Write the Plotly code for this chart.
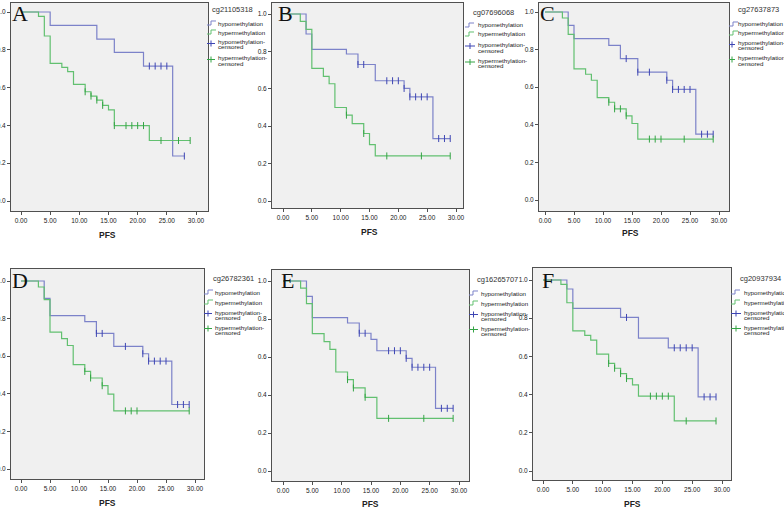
import plotly.graph_objects as go

W, H = 784, 509

# ---------------- data ----------------
x_tickvals = [0, 5, 10, 15, 20, 25, 30]
x_ticktext = ["0.00", "5.00", "10.00", "15.00", "20.00", "25.00", "30.00"]
y_tickvals = [0, 0.2, 0.4, 0.6, 0.8, 1.0]
y_ticktext = ["0.0", "0.2", "0.4", "0.6", "0.8", "1.0"]

panel_letters = ["A", "B", "C", "D", "E", "F"]
probe_ids = ["cg21105318", "cg07696068", "cg27637873", "cg26782361", "cg16265707", "cg20937934"]
x_title = "PFS"
legend_labels = ["hypomethylation", "hypermethylation", "hypomethylation-", "censored",
                 "hypermethylation-", "censored"]

# Panel A
a_hypo_times = [5, 13, 16, 21, 26]
a_hypo_surv = [0.929, 0.857, 0.786, 0.714, 0.238]
a_hypo_end = 28
a_hypo_cens = [22, 23, 24, 25, 28]
a_hyper_times = [3, 4, 5, 7, 8, 9, 11, 12, 13, 14, 15, 16, 22]
a_hyper_surv = [0.977, 0.873, 0.728, 0.707, 0.684, 0.617, 0.578, 0.555, 0.534, 0.506, 0.482, 0.399, 0.320]
a_hyper_end = 29
a_hyper_cens = [11, 12, 13, 14, 16, 18, 19, 20, 21, 24, 27, 29]

# Panel B
b_hypo_times = [4, 5, 11, 13, 16, 21, 22, 26]
b_hypo_surv = [0.893, 0.811, 0.786, 0.730, 0.643, 0.602, 0.557, 0.334]
b_hypo_end = 29
b_hypo_cens = [13, 14, 18, 19, 20, 21, 22, 23, 24, 25, 27, 28, 29]
b_hyper_times = [3, 4, 5, 7, 8, 9, 11, 12, 14, 15, 16]
b_hyper_surv = [0.961, 0.918, 0.709, 0.666, 0.627, 0.500, 0.459, 0.414, 0.361, 0.302, 0.241]
b_hyper_end = 29
b_hyper_cens = [11, 14, 18, 24, 29]

# Panel C
c_hypo_times = [4, 5, 11, 13, 16, 21, 22, 26]
c_hypo_surv = [0.929, 0.858, 0.823, 0.752, 0.680, 0.637, 0.588, 0.350]
c_hypo_end = 29
c_hypo_cens = [14, 16, 18, 21, 22, 23, 24, 25, 27, 28, 29]
c_hyper_times = [3, 4, 5, 7, 8, 9, 11, 12, 14, 15, 16]
c_hyper_surv = [0.968, 0.881, 0.697, 0.669, 0.637, 0.545, 0.520, 0.485, 0.448, 0.407, 0.324]
c_hyper_end = 29
c_hyper_cens = [11, 12, 13, 14, 18, 19, 20, 24, 29]

# Panel D
d_hypo_times = [4, 5, 11, 13, 16, 21, 22, 26]
d_hypo_surv = [0.908, 0.816, 0.784, 0.721, 0.652, 0.613, 0.574, 0.343]
d_hypo_end = 29
d_hypo_cens = [13, 14, 18, 21, 22, 23, 24, 25, 27, 28, 29]
d_hyper_times = [3, 4, 5, 7, 8, 9, 11, 12, 14, 15, 16]
d_hyper_surv = [0.968, 0.901, 0.728, 0.693, 0.657, 0.555, 0.519, 0.484, 0.443, 0.398, 0.309]
d_hyper_end = 29
d_hyper_cens = [11, 12, 14, 18, 19, 20, 29]

# Panel E
e_hypo_times = [4, 5, 11, 13, 15, 16, 21, 22, 26]
e_hypo_surv = [0.919, 0.807, 0.779, 0.725, 0.693, 0.633, 0.593, 0.546, 0.330]
e_hypo_end = 29
e_hypo_cens = [13, 14, 18, 19, 20, 21, 22, 23, 24, 25, 27, 28, 29]
e_hyper_times = [3, 4, 5, 7, 8, 9, 11, 12, 14, 16]
e_hyper_surv = [0.963, 0.881, 0.723, 0.681, 0.640, 0.521, 0.481, 0.437, 0.388, 0.277]
e_hyper_end = 29
e_hyper_cens = [11, 12, 14, 18, 24, 29]

# Panel F
f_hypo_times = [4, 5, 13, 16, 21, 26]
f_hypo_surv = [0.953, 0.851, 0.804, 0.696, 0.645, 0.388]
f_hypo_end = 29
f_hypo_cens = [14, 22, 23, 24, 25, 27, 28, 29]
f_hyper_times = [3, 4, 5, 7, 8, 9, 11, 12, 13, 14, 15, 16, 22]
f_hyper_surv = [0.977, 0.881, 0.734, 0.710, 0.685, 0.612, 0.563, 0.538, 0.510, 0.484, 0.451, 0.392, 0.262]
f_hyper_end = 29
f_hyper_cens = [11, 12, 13, 14, 18, 19, 20, 21, 24, 29]

panels_data = [
    ((a_hypo_times, a_hypo_surv, a_hypo_end, a_hypo_cens), (a_hyper_times, a_hyper_surv, a_hyper_end, a_hyper_cens)),
    ((b_hypo_times, b_hypo_surv, b_hypo_end, b_hypo_cens), (b_hyper_times, b_hyper_surv, b_hyper_end, b_hyper_cens)),
    ((c_hypo_times, c_hypo_surv, c_hypo_end, c_hypo_cens), (c_hyper_times, c_hyper_surv, c_hyper_end, c_hyper_cens)),
    ((d_hypo_times, d_hypo_surv, d_hypo_end, d_hypo_cens), (d_hyper_times, d_hyper_surv, d_hyper_end, d_hyper_cens)),
    ((e_hypo_times, e_hypo_surv, e_hypo_end, e_hypo_cens), (e_hyper_times, e_hyper_surv, e_hyper_end, e_hyper_cens)),
    ((f_hypo_times, f_hypo_surv, f_hypo_end, f_hypo_cens), (f_hyper_times, f_hyper_surv, f_hyper_end, f_hyper_cens)),
]

# ---------------- layout geometry (pixels) ----------------
# frame: left, top, right, bottom ; ticks: x0px, x30px, y1px, y0px
frames = [(11, 3, 208, 211), (272, 3, 463, 208), (539, 3, 729, 211),
          (11, 269, 204, 479), (272, 270, 469, 481), (533, 268, 731, 480)]
tickpx = [(21, 196, 12, 201), (283, 456, 14, 201), (545, 719, 12, 200),
          (21, 195, 281, 469), (283, 459, 281, 471), (543, 722, 280, 471)]
letter_pos = [(20, 14), (285, 13), (547, 14), (20, 280), (287, 280), (548, 280)]
title_pos = [(108, 235), (369, 232), (630, 233), (107, 503), (370, 504), (632, 504)]
# legend: icon x, text x, probe right x, probe y, row ys
legend_geo = [
    (207, 216, 255, 10, [23, 32, 42, 47, 58, 63]),
    (465, 476, 516, 12, [25, 34, 44, 50, 60, 66]),
    (729, 736, 781, 10, [24, 33, 43, 48, 58, 63]),
    (204, 213, 256, 278, [292, 302, 312, 317, 327, 332]),
    (469, 479, 520, 279, [293, 303, 313, 318, 328, 333]),
    (731, 742, 783, 278, [292, 302, 312, 317, 327, 332]),
]

HYPO_LINE = "#7c82c9"
HYPO_MARK = "#3d45b3"
HYPER_LINE = "#62c070"
HYPER_MARK = "#34a445"
FRAME = "#505050"
NARROW = "Liberation Sans Narrow, Arial Narrow, Liberation Sans, Arial"


def px(x, y):
    return x / W, 1 - y / H


def surv_at(t, times, surv):
    s = 1.0
    for ti, si in zip(times, surv):
        if ti <= t:
            s = si
    return s


fig = go.Figure()
shapes = []
annotations = []
layout = {}

for i, (hypo, hyper) in enumerate(panels_data):
    sfx = "" if i == 0 else str(i + 1)
    xa, ya = "x" + sfx, "y" + sfx
    l, t, r, b = frames[i]
    x0p, x30p, y1p, y0p = tickpx[i]
    xs = (x30p - x0p) / 30.0
    ys = (y0p - y1p) / 1.0
    xr = [(l - x0p) / xs, (r - x0p) / xs]
    yr = [(y0p - b) / ys, (y0p - t) / ys]

    common = dict(showgrid=False, zeroline=False, showline=True, mirror=True,
                  linecolor=FRAME, linewidth=1, ticks="outside", ticklen=3,
                  tickcolor=FRAME, tickwidth=1, automargin=False, fixedrange=True,
                  tickfont=dict(family=NARROW, size=6.5, color="#222"))
    layout["xaxis" + sfx] = dict(domain=[l / W, r / W], range=xr, anchor=ya,
                                 tickvals=x_tickvals, ticktext=x_ticktext, **common)
    layout["yaxis" + sfx] = dict(domain=[1 - b / H, 1 - t / H], range=yr, anchor=xa,
                                 tickvals=y_tickvals, ticktext=y_ticktext, **common)

    for (times, surv, end, cens), lc, mc in ((hypo, HYPO_LINE, HYPO_MARK),
                                             (hyper, HYPER_LINE, HYPER_MARK)):
        fig.add_trace(go.Scatter(
            x=[0] + times + [end], y=[1.0] + surv + [surv[-1]],
            mode="lines", line=dict(color=lc, width=1.2, shape="hv"),
            xaxis=xa, yaxis=ya, showlegend=False, hoverinfo="skip"))
        fig.add_trace(go.Scatter(
            x=cens, y=[surv_at(c, times, surv) for c in cens],
            mode="markers",
            marker=dict(symbol="line-ns", size=5, color=mc, line=dict(color=mc, width=1)),
            xaxis=xa, yaxis=ya, showlegend=False, hoverinfo="skip"))

    # panel letter
    lx, ly = px(*letter_pos[i])
    annotations.append(dict(text=panel_letters[i], x=lx, y=ly, xref="paper", yref="paper",
                            xanchor="center", yanchor="middle", showarrow=False,
                            font=dict(family="Liberation Serif, Times New Roman, serif",
                                      size=22, color="#111")))
    # x-axis title
    tx, ty = px(*title_pos[i])
    annotations.append(dict(text="<b>" + x_title + "</b>", x=tx, y=ty, xref="paper", yref="paper",
                            xanchor="center", yanchor="middle", showarrow=False,
                            font=dict(family="Liberation Sans, Arial", size=8.5, color="#222")))
    # legend
    ix, txx, prx, pry, rows = legend_geo[i]
    ax_, ay_ = px(prx, pry)
    annotations.append(dict(text=probe_ids[i], x=ax_, y=ay_, xref="paper", yref="paper",
                            xanchor="right", yanchor="middle", showarrow=False,
                            font=dict(family=NARROW, size=7.5, color="#333")))
    for k, lab in enumerate(legend_labels):
        lx2, ly2 = px(txx, rows[k])
        annotations.append(dict(text=lab, x=lx2, y=ly2, xref="paper", yref="paper",
                                xanchor="left", yanchor="middle", showarrow=False,
                                font=dict(family=NARROW, size=6.2, color="#222")))
    # legend icons
    for k, col in ((0, HYPO_LINE), (1, HYPER_LINE)):
        yy = rows[k]
        pts = [(ix, yy + 2), (ix + 4, yy + 2), (ix + 4, yy - 2), (ix + 9, yy - 2)]
        path = "M " + " L ".join("%f,%f" % px(*p) for p in pts)
        shapes.append(dict(type="path", path=path, xref="paper", yref="paper",
                           line=dict(color=col, width=1)))
    for (ka, kb), col in (((2, 3), HYPO_MARK), ((4, 5), HYPER_MARK)):
        yy = (rows[ka] + rows[kb]) / 2.0 - 1
        x1, y1 = px(ix, yy)
        x2, y2 = px(txx - 1, yy)
        shapes.append(dict(type="line", x0=x1, y0=y1, x1=x2, y1=y2, xref="paper", yref="paper",
                           line=dict(color=col, width=1)))
        cx = (ix + txx - 1) / 2.0
        x1, y1 = px(cx, yy - 3)
        x2, y2 = px(cx, yy + 3)
        shapes.append(dict(type="line", x0=x1, y0=y1, x1=x2, y1=y2, xref="paper", yref="paper",
                           line=dict(color=col, width=1)))

fig.update_layout(
    width=W, height=H, autosize=False,
    margin=dict(l=0, r=0, t=0, b=0, pad=0),
    paper_bgcolor="white", plot_bgcolor="#f0f0f0",
    showlegend=False, shapes=shapes, annotations=annotations,
    **layout)

fig.write_html("out.html", config={"displayModeBar": False, "staticPlot": True},
               post_script="document.body.style.margin='0';document.body.style.overflow='hidden';")
